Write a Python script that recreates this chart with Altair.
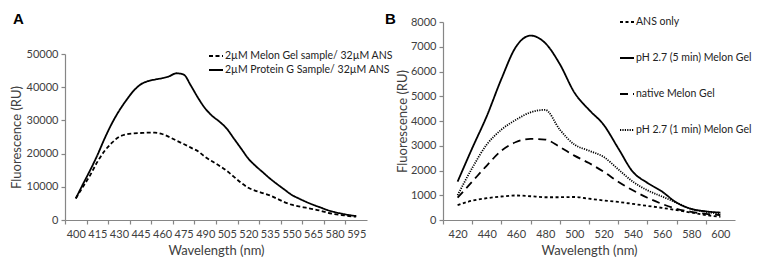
import altair as alt
import pandas as pd

# ---------- Panel A data (5 nm steps) ----------
wl_a = list(range(400, 600, 5))
melon_a = [6500, 10000, 13500, 17500, 20800, 23200, 25000, 25800, 26100, 26200,
           26300, 26300, 25900, 25000, 23900, 22900, 21800, 20700, 19000, 17600,
           16300, 14800, 13000, 11200, 9700, 8800, 8100, 7400, 6400, 5400,
           4600, 4100, 3700, 3300, 2800, 2200, 1800, 1500, 1200, 1000]
protg_a = [6500, 10800, 15000, 19500, 24500, 29000, 32800, 36000, 38800, 40800,
           41800, 42300, 42700, 43300, 44200, 43800, 40500, 36800, 33600, 31300,
           29600, 27500, 24500, 21500, 18500, 16300, 14400, 12500, 10800, 9200,
           7600, 6500, 5500, 4600, 3800, 3000, 2400, 1900, 1500, 1200]
series_a = ["2µM Melon Gel sample/ 32µM ANS", "2µM Protein G Sample/ 32µM ANS"]
ticks_a = list(range(400, 600, 15))

# ---------- Panel B data (10 nm steps) ----------
wl_b = list(range(420, 610, 10))
ans_only = [600, 780, 880, 950, 990, 960, 920, 920, 930, 860,
            790, 730, 650, 570, 490, 400, 300, 200, 130]
ph5 = [1550, 2900, 4200, 5700, 7000, 7450, 7150, 6300, 5150, 4450,
       3850, 2900, 1950, 1500, 1150, 700, 450, 350, 300]
native = [900, 1550, 2200, 2800, 3150, 3280, 3250, 2950, 2600, 2300,
          1950, 1550, 1200, 900, 650, 450, 330, 250, 200]
ph1 = [1000, 2100, 3050, 3650, 4050, 4350, 4450, 3650, 3050, 2800,
       2550, 2050, 1550, 1200, 950, 700, 450, 330, 250]
series_b = ["ANS only", "pH 2.7  (5 min) Melon Gel", "native Melon Gel", "pH 2.7 (1 min) Melon Gel"]
ticks_b = list(range(420, 610, 20))

FONT = "Lato"
TXT = "#404040"
AX = "#868686"

df_a = pd.concat([
    pd.DataFrame({"wl": wl_a, "val": melon_a, "s": series_a[0]}),
    pd.DataFrame({"wl": wl_a, "val": protg_a, "s": series_a[1]}),
])
df_b = pd.concat([
    pd.DataFrame({"wl": wl_b, "val": ans_only, "s": series_b[0]}),
    pd.DataFrame({"wl": wl_b, "val": ph5, "s": series_b[1]}),
    pd.DataFrame({"wl": wl_b, "val": native, "s": series_b[2]}),
    pd.DataFrame({"wl": wl_b, "val": ph1, "s": series_b[3]}),
])

H = 198
WA = 302
WB = 292


def xaxis(vals, off):
    return alt.Axis(values=vals, title="Wavelength (nm)", grid=False,
                    tickOffset=-off, labelOffset=off, tickSize=4,
                    labelPadding=4, titlePadding=5, labelFlush=False)


def yaxis(step_vals, tpad):
    return alt.Axis(values=step_vals, title="Fluorescence (RU)", grid=False,
                    tickSize=4, labelPadding=3, titlePadding=tpad, format="d")


def legend(x, y, rowpad, size, fs):
    return alt.Legend(title=None, orient="none", legendX=x, legendY=y,
                      symbolType="stroke", symbolSize=size, symbolStrokeWidth=1.8,
                      symbolStrokeColor="black", labelFont=FONT, labelFontSize=fs,
                      labelColor="#222", labelOffset=1, rowPadding=rowpad,
                      labelLimit=400)


letter = dict(font="Liberation Sans", fontWeight="bold", fontSize=15,
              align="left", baseline="top", color="black")

line_a = alt.Chart(df_a).mark_line(color="black", strokeWidth=1.8, interpolate="monotone").encode(
    x=alt.X("wl:Q", scale=alt.Scale(domain=[392.5, 602.5], nice=False, zero=False),
            axis=xaxis(ticks_a + [610], 10.8)),
    y=alt.Y("val:Q", scale=alt.Scale(domain=[0, 50000], range=[H, H - 166], nice=False),
            axis=yaxis(list(range(0, 50001, 10000)), 3)),
    strokeDash=alt.StrokeDash("s:N", scale=alt.Scale(domain=series_a, range=[[4, 2.5], [1, 0]]),
                              legend=legend(143, 26, -5, 196, 10.5)),
)
lab_a = alt.Chart(pd.DataFrame({"t": ["A"]})).mark_text(**letter).encode(
    text="t:N", x=alt.value(-52), y=alt.value(-10))
lab_b = alt.Chart(pd.DataFrame({"t": ["B"]})).mark_text(**letter).encode(
    text="t:N", x=alt.value(WA + 18), y=alt.value(-10))
chart_a = alt.layer(line_a, lab_a, lab_b).properties(width=WA, height=H)

line_b = alt.Chart(df_b).mark_line(color="black", strokeWidth=1.8, interpolate="monotone").encode(
    x=alt.X("wl:Q", scale=alt.Scale(domain=[410, 610], nice=False, zero=False),
            axis=xaxis(ticks_b + [620], 14.6)),
    y=alt.Y("val:Q", scale=alt.Scale(domain=[0, 8000], nice=False),
            axis=yaxis(list(range(0, 8001, 1000)), 1)),
    strokeDash=alt.StrokeDash("s:N", scale=alt.Scale(domain=series_b,
                              range=[[3, 2.5], [1, 0], [8, 5], [1.2, 1.2]]),
                              legend=legend(176, -8, 22, 196, 10.5)),
)
chart_b = alt.layer(line_b).properties(width=WB, height=H)

chart = alt.hconcat(chart_a, chart_b, spacing=0).resolve_scale(
    x="independent", y="independent", strokeDash="independent"
).resolve_legend(strokeDash="independent").properties(
    padding={"left": 2, "top": 4, "right": 0, "bottom": 0}
).configure_view(
    stroke=None
).configure_axis(
    domainColor=AX, tickColor=AX, labelFont=FONT, labelFontSize=11, labelColor=TXT,
    titleFont=FONT, titleFontSize=13, titleFontWeight="normal", titleColor=TXT,
    domainWidth=1.2, tickWidth=1.2
)

chart.save("out.html", embed_options={"renderer": "svg", "actions": False})
